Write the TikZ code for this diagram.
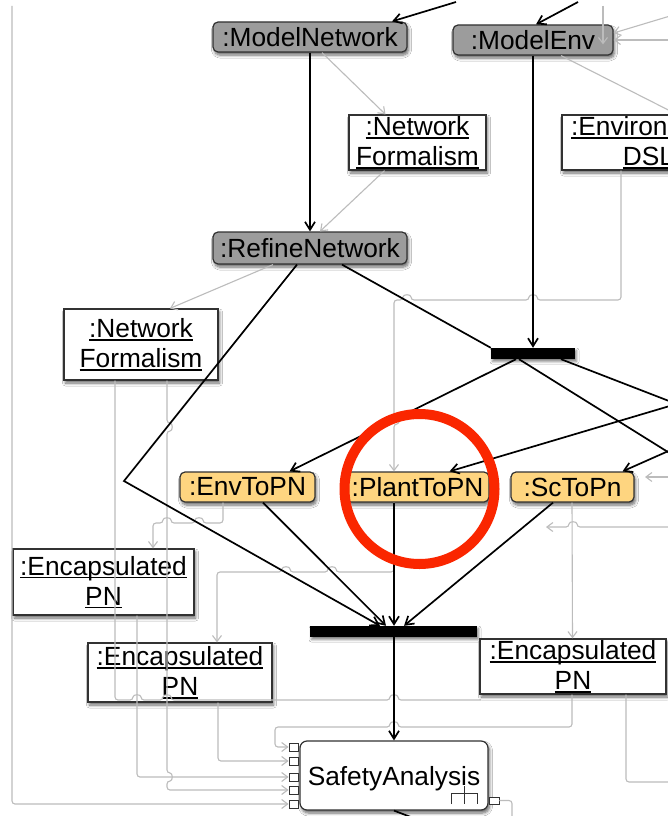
\documentclass[tikz,border=0pt]{standalone}
\usepackage{fontspec}
\setmainfont{Liberation Sans}
\usetikzlibrary{arrows.meta,shadows.blur}

\definecolor{actgray}{RGB}{156,156,156}
\definecolor{actorange}{RGB}{254,213,128}
\definecolor{edgegray}{RGB}{188,188,188}
\definecolor{boxline}{RGB}{50,50,50}
\definecolor{hilite}{RGB}{250,38,0}

% object names are underlined close to the baseline
\newcommand\objline[1]{\leavevmode\setbox0=\hbox{#1}\rlap{\rule[-3pt]{\wd0}{1.1pt}}\box0}

\tikzset{
  boxbase/.style={font=\fontsize{26.3}{30}\selectfont, inner sep=0pt, align=center,
    draw=boxline, line width=1.2pt,
    blur shadow={shadow xshift=1.5pt, shadow yshift=-3pt, shadow blur radius=3pt,
                 shadow blur steps=6, shadow opacity=60}},
  act/.style={boxbase, rounded corners=5pt, fill=actgray},
  xform/.style={boxbase, rounded corners=5pt, fill=actorange},
  obj/.style={boxbase, fill=white},
  callact/.style={boxbase, rounded corners=7pt, fill=white, text depth=0pt},
  syncbar/.style={fill=black, draw=none, inner sep=0pt,
    blur shadow={shadow xshift=1.5pt, shadow yshift=-2.5pt, shadow blur radius=2.5pt,
                 shadow blur steps=5, shadow opacity=50}},
  pin/.style={draw=boxline, fill=white, line width=0.9pt, inner sep=0pt,
    minimum width=9pt, minimum height=8pt},
  ctrl/.style={line width=1.7pt, black},
  ctrlarrow/.style={ctrl, -{Straight Barb[length=8pt,width=10pt]}},
  flow/.style={line width=1.1pt, edgegray, rounded corners=3pt},
  flowarrow/.style={flow, -{Straight Barb[length=6pt,width=9pt]}},
}

\begin{document}
\begin{tikzpicture}[x=1pt, y=-1pt]
\useasboundingbox (0,0) rectangle (668,816);
\clip (0,0) rectangle (668,816);
\fill[white] (0,0) rectangle (668,816);

% ---- actions ----
\node[act, minimum width=194pt, minimum height=30pt] (mnet) at (310,37) {:ModelNetwork};
\node[act, minimum width=160pt, minimum height=30pt] (menv) at (533,40) {:ModelEnv};
\node[act, minimum width=194pt, minimum height=32pt] (refine) at (310,248) {:RefineNetwork};
\node[xform, minimum width=135pt, minimum height=30pt] (envtopn) at (247.5,487) {:EnvToPN};
\node[xform, minimum width=143pt, minimum height=30pt] (planttopn) at (417.5,487) {:PlantToPN};
\node[xform, minimum width=123pt, minimum height=30pt] (sctopn) at (572.5,487) {:ScToPn};
\node[callact, minimum width=188pt, minimum height=69pt] (safety) at (394,775.5) {SafetyAnalysis};

% ---- objects ----
\node[obj, minimum width=137pt, minimum height=55pt] (nf1) at (417.5,142.5)
  {\objline{:Network}\\\objline{Formalism}};
\node[obj, minimum width=173pt, minimum height=55pt] (envdsl) at (648.5,142.5)
  {\objline{:Environment}\\\objline{DSL}};
\node[obj, minimum width=154pt, minimum height=71pt] (nf2) at (141,344.5)
  {\objline{:Network}\\\objline{Formalism}};
\node[obj, minimum width=181pt, minimum height=66pt] (encL) at (103.5,582)
  {\objline{:Encapsulated}\\\objline{PN}};
\node[obj, minimum width=184pt, minimum height=59pt] (encM) at (180,672.5)
  {\objline{:Encapsulated}\\\objline{PN}};
\node[obj, minimum width=186pt, minimum height=55pt] (encR) at (573,666.5)
  {\objline{:Encapsulated}\\\objline{PN}};

% ---- fork and join ----
\node[syncbar, minimum width=84pt, minimum height=11pt] (fork) at (533,353.5) {};
\node[syncbar, minimum width=167pt, minimum height=11pt] (join) at (393.5,631.5) {};

% ---- pins of SafetyAnalysis ----
\node[pin] (p1) at (293.5,747) {};
\node[pin] (p2) at (293.5,761) {};
\node[pin] (p3) at (293.5,777) {};
\node[pin] (p4) at (293.5,790) {};
\node[pin] (p5) at (293.5,804) {};
\node[pin, minimum width=10pt, minimum height=7pt] (pr) at (494,800.5) {};

% rake: SafetyAnalysis calls a sub-activity
\draw[boxline, line width=1pt] (464,786) -- (464,804)
  (451,804) -- (451,793) -- (477,793) -- (477,804);

% ---- free ends ----
\coordinate (gtop) at (12,6);
\coordinate (in1) at (456,2);
\coordinate (in2) at (578,2);
\coordinate (in3) at (700,397);
\coordinate (in4) at (700,437);
\coordinate (in5) at (603,6);
\coordinate (in6) at (690,10);
\coordinate (in7) at (690,40);
\coordinate (in8) at (690,527);
\coordinate (in9) at (690,477);
\coordinate (out1) at (700,472);
\coordinate (out2) at (700,413);
\coordinate (out3) at (445,830);
\coordinate (out5) at (690,782);
\coordinate (out6) at (512,830);
\coordinate (flowend1) at (546,527);
\coordinate (flowend2) at (645,477);
\coordinate (flowend3) at (481,700);
\coordinate (bendL) at (124,481);

% ---- object flows ----
\draw[flowarrow] (gtop) -- (12,804) -- (p5.west);
\draw[flowarrow] (in5) -- ([xshift=70pt,yshift=-20pt]menv.north);
\draw[flowarrow] (in6) -- ([yshift=7pt]menv.east);
\draw[flowarrow] (in7) -- (menv.east);
\draw[flowarrow] ([xshift=28pt]menv.south) -- ([xshift=28.5pt]envdsl.north);
\draw[flowarrow] ([xshift=12pt]mnet.south) -- ([xshift=-32pt]nf1.north);
\draw[flowarrow] ([xshift=-33pt]nf1.south) -- ([xshift=10pt]refine.north);
\draw[flowarrow] ([xshift=-37pt]refine.south) -- ([xshift=29pt]nf2.north);
\draw[flowarrow] ([xshift=-27.5pt]envdsl.south) -- (621,300)
  -- (537,300) .. controls (537,294) and (529,294) .. (529,300)
  -- (411,300) .. controls (411,294) and (403,294) .. (403,300)
  -- (394,300) -- (394,416) .. controls (400,416) and (400,424) .. (394,424)
  -- ([xshift=-23.5pt]planttopn.north);
\draw[flow] ([xshift=-26pt]nf2.south) -- (115,700)
  -- (133,700) .. controls (133,694) and (141,694) .. (141,700)
  -- (163,700) .. controls (163,694) and (171,694) .. (171,700)
  -- (390,700) .. controls (390,694) and (398,694) .. (398,700)
  -- (flowend3);
\draw[flowarrow] ([xshift=26pt]nf2.south)
  -- (167,423) .. controls (173,423) and (173,431) .. (167,431)
  -- (167,773) .. controls (173,773) and (173,781) .. (167,781)
  -- (167,790) -- (p4.west);
\draw[flowarrow] ([xshift=-24.5pt]envtopn.south) -- (223,523)
  -- (203,523) .. controls (203,517) and (195,517) .. (195,523)
  -- (171,523) .. controls (171,517) and (163,517) .. (163,523)
  -- (153,523) -- ([xshift=49.5pt]encL.north);
\draw[flowarrow] ([xshift=-23.5pt]planttopn.south) -- (394,572)
  -- (336,572) .. controls (336,566) and (328,566) .. (328,572)
  -- (290,572) .. controls (290,566) and (282,566) .. (282,572)
  -- (217,572) -- ([xshift=37pt]encM.north);
\draw[flowarrow] ([xshift=-0.5pt]sctopn.south) -- ([xshift=-0.5pt]encR.north);
\draw[flowarrow] (in8) -- (577,527) .. controls (577,521) and (569,521) .. (569,527)
  -- (flowend1);
\draw[flowarrow] (in9) -- (flowend2);
\draw[flowarrow] ([xshift=33.5pt]encL.south) -- (137,777) -- (p3.west);
\draw[flowarrow] ([xshift=38pt]encM.south) -- (218,761) -- (p2.west);
\draw[flowarrow] ([xshift=-1pt]encR.south) -- (572,727)
  -- (398,727) .. controls (398,721) and (390,721) .. (390,727)
  -- (275,727) -- (275,747) -- (p1.west);
\draw[flow] ([xshift=53pt]encR.south) -- (626,782) -- (out5);
\draw[flow] (pr.east) -- (512,800.5) -- (out6);

% ---- control flows ----
\draw[ctrlarrow] (in1) -- ([xshift=82pt]mnet.north);
\draw[ctrlarrow] (in2) -- ([xshift=3pt]menv.north);
\draw[ctrlarrow] (mnet.south) -- (refine.north);
\draw[ctrlarrow] (menv.south) -- (fork.north);
\draw[ctrlarrow] ([xshift=-13pt]refine.south) -- (bendL) -- ([xshift=-13.5pt]join.north);
\draw[ctrl] ([xshift=32pt]refine.south) -- (fork.north west);
\draw[ctrlarrow] ([xshift=-17pt]fork.south) -- ([xshift=42pt]envtopn.north);
\draw[ctrl] ([xshift=-14pt]fork.south) -- (out1);
\draw[ctrl] ([xshift=28pt]fork.south) -- (out2);
\draw[ctrlarrow] (in3) -- ([xshift=32pt]planttopn.north);
\draw[ctrlarrow] (in4) -- ([xshift=50pt]sctopn.north);
\draw[ctrlarrow] ([xshift=15.5pt]envtopn.south) -- ([xshift=-7.5pt]join.north);
\draw[ctrlarrow] ([xshift=-23.5pt]planttopn.south) -- ([xshift=0.5pt]join.north);
\draw[ctrlarrow] ([xshift=-19.5pt]sctopn.south) -- ([xshift=10.5pt]join.north);
\draw[ctrlarrow] ([xshift=0.5pt]join.south) -- (safety.north);
\draw[ctrl] (safety.south) -- (out3);

% ---- highlight ring ----
\node[draw=hilite, line width=10pt, circle, minimum size=150pt, inner sep=0pt] (focus)
  at (419.5,489) {};
\end{tikzpicture}
\end{document}
